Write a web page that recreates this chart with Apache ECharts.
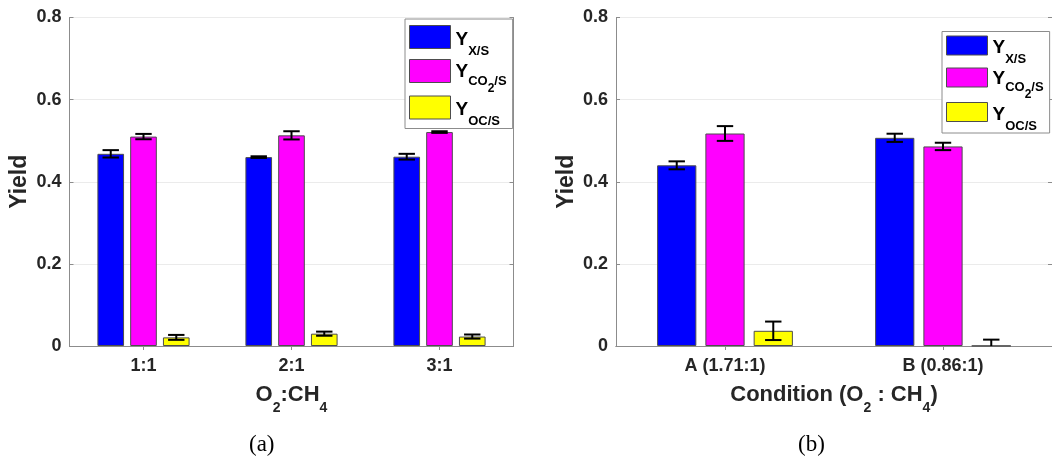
<!DOCTYPE html>
<html>
<head>
<meta charset="utf-8">
<script src="https://cdn.jsdelivr.net/npm/echarts@6/dist/echarts.min.js"></script>
<style>
html,body{margin:0;padding:0;background:#fff;}
#chart{width:1052px;height:458px;}
</style>
</head>
<body>
<div id="chart"></div>
<script>
// ---- data (a) ----
const catsA = ['1:1', '2:1', '3:1'];
const xsA = [0.468, 0.460, 0.461];
const xsErrA = [0.009, 0.002, 0.007];
const co2A = [0.510, 0.513, 0.521];
const co2ErrA = [0.0065, 0.010, 0.002];
const ocA = [0.021, 0.030, 0.023];
const ocErrA = [0.006, 0.005, 0.005];

// ---- data (b) ----
const catsB = ['A (1.71:1)', 'B (0.86:1)'];
const xsB = [0.440, 0.507];
const xsErrB = [0.0097, 0.010];
const co2B = [0.5175, 0.486];
const co2ErrB = [0.018, 0.009];
const ocB = [0.037, 0.0005];
const ocErrB = [0.0225, 0.015];

const yTicks = [0, 0.2, 0.4, 0.6, 0.8];
const seriesNames = ['Y_X/S', 'Y_CO2/S', 'Y_OC/S'];
const colors = ['#0000FF', '#FF00FF', '#FFFF00'];

const FONT = '"Liberation Sans", Arial, Helvetica, sans-serif';
const TXT = '#262626';
const AX = '#8c8c8c';
const BAR_FRAC = 0.18, GAP_FRAC = 0.23;

const chart = echarts.init(document.getElementById('chart'));

function mainX(gi, cats, nameRich) {
  return {
    type: 'category', gridIndex: gi, data: cats, position: 'bottom',
    axisLine: {show: true, lineStyle: {color: AX, width: 1}},
    axisTick: {show: true, inside: true, alignWithLabel: true, length: 4, lineStyle: {color: AX}},
    axisLabel: {color: TXT, fontFamily: FONT, fontWeight: 'bold', fontSize: 18, margin: 11},
    name: nameRich, nameLocation: 'middle', nameGap: 38,
    nameTextStyle: {
      color: TXT, fontFamily: FONT, fontWeight: 'bold', fontSize: 22,
      rich: {
        n: {color: TXT, fontFamily: FONT, fontWeight: 'bold', fontSize: 22, lineHeight: 24, padding: [0, 0, 8, 0], verticalAlign: 'top'},
        s: {color: TXT, fontFamily: FONT, fontWeight: 'bold', fontSize: 14, lineHeight: 14, padding: [17, 0, 1, 0], verticalAlign: 'top'}
      }
    },
    splitLine: {show: false}
  };
}
function topX(gi, cats) {
  return {
    type: 'category', gridIndex: gi, data: cats, position: 'top',
    axisLine: {show: true, lineStyle: {color: AX, width: 1}},
    axisTick: {show: true, inside: true, alignWithLabel: true, length: 4, lineStyle: {color: AX}},
    axisLabel: {show: false}, splitLine: {show: false}
  };
}
function mainY(gi) {
  return {
    type: 'value', gridIndex: gi, min: yTicks[0], max: yTicks[yTicks.length - 1], interval: 0.2,
    position: 'left',
    axisLine: {show: true, lineStyle: {color: AX, width: 1}},
    axisTick: {show: true, inside: true, length: 4, lineStyle: {color: AX}},
    axisLabel: {color: TXT, fontFamily: FONT, fontWeight: 'bold', fontSize: 18, margin: 8,
      formatter: v => (v === 0 ? '0' : v.toFixed(1))},
    splitLine: {show: true, lineStyle: {color: '#ebebeb', width: 1}},
    name: 'Yield', nameLocation: 'middle', nameGap: 38, nameRotate: 90,
    nameTextStyle: {color: TXT, fontFamily: FONT, fontWeight: 'bold', fontSize: 23}
  };
}
function rightY(gi) {
  return {
    type: 'value', gridIndex: gi, min: yTicks[0], max: yTicks[yTicks.length - 1], interval: 0.2,
    position: 'right',
    axisLine: {show: true, lineStyle: {color: AX, width: 1}},
    axisTick: {show: true, inside: true, length: 4, lineStyle: {color: AX}},
    axisLabel: {show: false}, splitLine: {show: false}
  };
}

function barSeries(gi, k, vals) {
  return {
    type: 'bar', name: seriesNames[k], xAxisIndex: gi * 2, yAxisIndex: gi * 2,
    data: vals, barWidth: (BAR_FRAC * 100) + '%', barGap: (GAP_FRAC * 100) + '%',
    itemStyle: {color: colors[k], borderColor: '#4d4d4d', borderWidth: 1},
    emphasis: {disabled: true}, silent: true, z: 3
  };
}
function errSeries(gi, k, vals, errs) {
  return {
    type: 'custom', name: 'err' + gi + k, xAxisIndex: gi * 2, yAxisIndex: gi * 2,
    silent: true, z: 10,
    data: vals.map((v, i) => [i, v, errs[i]]),
    renderItem: function (params, api) {
      const i = api.value(0), v = api.value(1), e = api.value(2);
      const band = api.size([1, 0])[0];
      const w = band * BAR_FRAC, g = w * GAP_FRAC;
      const total = 3 * w + 2 * g;
      const c = api.coord([i, v]);
      const x = c[0] - total / 2 + k * (w + g) + w / 2;
      const yTop = api.coord([i, v + e])[1];
      const yBotRaw = api.coord([i, v - e])[1];
      const yZero = api.coord([i, 0])[1];
      const yBot = Math.min(yBotRaw, yZero);
      const hw = 8.2;
      const st = {stroke: '#000', lineWidth: 2};
      const ch = [
        {type: 'line', shape: {x1: x, y1: yTop, x2: x, y2: yBot}, style: st},
        {type: 'line', shape: {x1: x - hw, y1: yTop, x2: x + hw, y2: yTop}, style: st}
      ];
      if (yBotRaw <= yZero) ch.push({type: 'line', shape: {x1: x - hw, y1: yBotRaw, x2: x + hw, y2: yBotRaw}, style: st});
      return {type: 'group', children: ch};
    }
  };
}

const legendRich = {
  y: {color: '#000', fontFamily: FONT, fontWeight: 'bold', fontSize: 19, lineHeight: 20, padding: [3, 0, 7, 0], verticalAlign: 'top'},
  s: {color: '#000', fontFamily: FONT, fontWeight: 'bold', fontSize: 13, lineHeight: 12, padding: [17.5, 0, 0.5, 0], verticalAlign: 'top'},
  y2: {color: '#000', fontFamily: FONT, fontWeight: 'bold', fontSize: 19, lineHeight: 19, padding: [1, 0, 10, 0], verticalAlign: 'top'},
  c: {color: '#000', fontFamily: FONT, fontWeight: 'bold', fontSize: 13, lineHeight: 12, padding: [13, 0, 5, 0], verticalAlign: 'top'},
  c2: {color: '#000', fontFamily: FONT, fontWeight: 'bold', fontSize: 12, lineHeight: 9, padding: [21, 0, 0, 0], verticalAlign: 'top'}
};
function legendFmt(name) {
  if (name === 'Y_X/S') return '{y|Y}{s|X/S}';
  if (name === 'Y_CO2/S') return '{y2|Y}{c|CO}{c2|2}{c|/S}';
  return '{y|Y}{s|OC/S}';
}
function legend(left, top, h, gap, pad) {
  return {
    left: left, top: top, orient: 'vertical', data: seriesNames,
    itemWidth: 41, itemHeight: h, itemGap: gap, icon: 'rect',
    padding: pad, backgroundColor: '#fff', borderColor: '#8c8c8c', borderWidth: 1,
    selectedMode: false, formatter: legendFmt,
    itemStyle: {borderColor: '#4d4d4d', borderWidth: 1},
    textStyle: {fontFamily: FONT, rich: legendRich}
  };
}

const option = {
  backgroundColor: '#fff',
  animation: false,
  grid: [
    {left: 69.5, top: 17.5, width: 444, height: 328.5, show: false},
    {left: 616, top: 17.5, width: 444, height: 328.5, show: false}
  ],
  xAxis: [
    mainX(0, catsA, '{n|O}{s|2}{n|:CH}{s|4}'),
    topX(0, catsA),
    mainX(1, catsB, '{n|Condition (O}{s|2}{n| : CH}{s|4}{n|)}'),
    topX(1, catsB)
  ],
  yAxis: [mainY(0), rightY(0), mainY(1), rightY(1)],
  legend: [
    legend(405, 19, 23, 1, [6, 6, 0, 4]),
    legend(942, 31.5, 19, 1, [4, 6, 0, 4])
  ],
  series: [
    barSeries(0, 0, xsA), barSeries(0, 1, co2A), barSeries(0, 2, ocA),
    barSeries(1, 0, xsB), barSeries(1, 1, co2B), barSeries(1, 2, ocB),
    errSeries(0, 0, xsA, xsErrA), errSeries(0, 1, co2A, co2ErrA), errSeries(0, 2, ocA, ocErrA),
    errSeries(1, 0, xsB, xsErrB), errSeries(1, 1, co2B, co2ErrB), errSeries(1, 2, ocB, ocErrB)
  ],
  graphic: [
    {type: 'text', left: 263 - 14, top: 433, style: {text: '(a)', font: '23px "Liberation Serif", "Times New Roman", serif', fill: '#000'}},
    {type: 'text', left: 812 - 14, top: 433, style: {text: '(b)', font: '23px "Liberation Serif", "Times New Roman", serif', fill: '#000'}}
  ]
};
chart.setOption(option);
</script>
</body>
</html>
